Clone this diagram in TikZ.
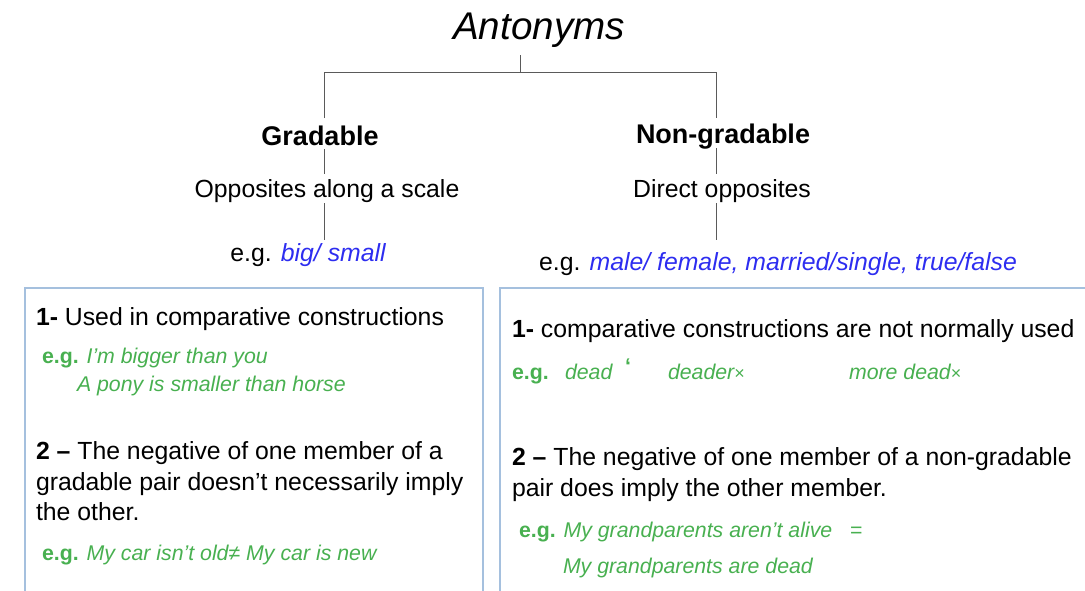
\documentclass[tikz,border=0pt]{standalone}
\usepackage{fontspec}
\setmainfont{Liberation Sans}
\definecolor{boxblue}{RGB}{165,192,222}
\definecolor{exblue}{RGB}{45,45,240}
\definecolor{exgreen}{RGB}{72,176,80}
\definecolor{linegray}{RGB}{90,90,90}
\begin{document}
\begin{tikzpicture}[x=1pt,y=-1pt,
  txt/.style={inner sep=0pt,outer sep=0pt,anchor=base west,font=\fontsize{24.8}{29}\selectfont},
  ctxt/.style={inner sep=0pt,outer sep=0pt,anchor=base,font=\fontsize{24.8}{29}\selectfont},
  head/.style={inner sep=0pt,outer sep=0pt,anchor=base,font=\fontsize{27}{31}\selectfont\bfseries},
  ex/.style={inner sep=0pt,outer sep=0pt,anchor=base west,text=exgreen,font=\fontsize{21.3}{25}\selectfont\itshape},
  conn/.style={draw=linegray,line width=1pt},
  panel/.style={draw=boxblue,line width=2pt}]
\useasboundingbox (0,0) rectangle (1085,590);
% title
\node[inner sep=0pt,anchor=base,font=\fontsize{38.6}{44}\selectfont\itshape] (title) at (539,39) {Antonyms};
\coordinate (t1) at (520,55);
\coordinate (t2) at (520,72);
\coordinate (tl) at (324,72);
\coordinate (tr) at (716,72);
\coordinate (gl) at (324,118);
\coordinate (gr) at (716,118);
\draw[conn] (t1) -- (t2);
\draw[conn] (gl) -- (tl) -- (tr) -- (gr);
% left column
\node[head] (grad) at (320,145) {Gradable};
\node[ctxt] (gdef) at (327,197) {Opposites along a scale};
\node[ctxt] (gex) at (308,261) {e.g. {\color{exblue}\itshape big/ small}};
\draw[conn] (324,149) -- (324,174);
\draw[conn] (324,203) -- (324,240);
% right column
\node[head] (ngrad) at (723,143) {Non-gradable};
\node[ctxt] (ndef) at (722,197) {Direct opposites};
\node[ctxt] (nex) at (778,270) {e.g. {\color{exblue}\itshape male/ female, married/single, true/false}};
\draw[conn] (716,148) -- (716,174);
\draw[conn] (716,203) -- (716,240);
% panels
\draw[panel] (25,600) -- (25,288) -- (483,288) -- (483,600);
\draw[panel] (500,600) -- (500,288) -- (1095,288);
% left panel text
\node[txt] (l1) at (36,325) {\textbf{1-} Used in comparative constructions};
\node[ex] (l1e) at (42,363) {{\upshape\bfseries e.g.} I’m bigger than you};
\node[ex] (l1f) at (77,391) {A pony is smaller than horse};
\node[txt] (l2a) at (36,459) {\textbf{2 –} The negative of one member of a};
\node[txt] (l2b) at (36,490) {gradable pair doesn’t necessarily imply};
\node[txt] (l2c) at (36,520) {the other.};
\node[ex] (l2e) at (42,560) {{\upshape\bfseries e.g.} My car isn’t old{\upshape≠} My car is new};
% right panel text
\node[txt] (r1) at (512,337) {\textbf{1-} comparative constructions are not normally used};
\node[ex] (r1e) at (512,379) {{\upshape\bfseries e.g.}};
\node[ex] (r1f) at (565,379) {dead};
\node[ex] (r1g) at (625,373) {{\upshape\bfseries ‘}};
\node[ex] (r1h) at (668,379) {deader{\upshape\fontsize{18}{20}\selectfont×}};
\node[ex] (r1i) at (849,379) {more dead{\upshape\fontsize{18}{20}\selectfont×}};
\node[txt] (r2a) at (512,465) {\textbf{2 –} The negative of one member of a non-gradable};
\node[txt] (r2b) at (512,496) {pair does imply the other member.};
\node[ex] (r2e) at (519,537) {{\upshape\bfseries e.g.} My grandparents aren’t alive \ \ {\upshape=}};
\node[ex] (r2f) at (563,573) {My grandparents are dead};
\end{tikzpicture}
\end{document}
